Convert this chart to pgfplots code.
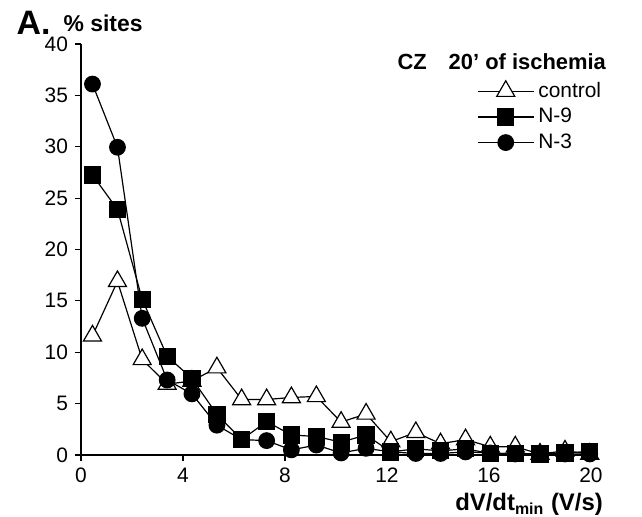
\documentclass[border=0pt]{standalone}
\usepackage{pgfplots}
\pgfplotsset{compat=1.18}
\usepackage{fontspec}
\setmainfont{Liberation Sans}
\begin{document}
\begin{tikzpicture}
\useasboundingbox (-40.5bp,-31bp) rectangle (280.5bp,227.5bp);
\begin{axis}[
  at={(0,0)}, anchor=south west,
  scale only axis, width=255bp, height=205.5bp,
  xmin=0, xmax=20, ymin=0, ymax=40,
  axis lines=left, axis line style={-, line width=0.8pt},
  xtick={0,4,...,20}, ytick={0,5,...,40},
  tick align=outside, major tick length=3bp,
  tick style={line width=0.6pt, black},
  /pgf/number format/assume math mode=true,
  tick label style={font=\fontsize{10.5}{12}\selectfont},
  clip=false,
  every axis plot/.append style={line width=0.6pt, black},
  legend style={at={(rel axis cs:0.776,0.918)}, anchor=north west, draw=none, fill=none,
    font=\fontsize{10.5}{12}\selectfont, row sep=0bp, inner sep=0pt},
  legend cell align=left,
  legend image code/.code={\draw[mark repeat=2,mark phase=2] plot coordinates {(0bp,0bp) (14bp,0bp) (28bp,0bp)};},
]
\addplot[mark=triangle*, mark options={fill=white, line width=0.6pt}, mark size=5.2bp] coordinates {
(0.45,11.6) (1.43,16.9) (2.40,9.3) (3.38,6.9) (4.35,7.2) (5.33,8.5) (6.30,5.4) (7.28,5.4) (8.25,5.6) (9.23,5.7)
(10.20,3.2) (11.18,4.0) (12.15,1.3) (13.13,2.2) (14.10,1.1) (15.08,1.5) (16.05,0.8) (17.03,0.8) (18.00,0.1) (18.98,0.4) (19.95,0.1)};
\addlegendentry{control}
\addplot[mark=square*, mark options={fill=black}, mark size=4bp] coordinates {
(0.45,27.25) (1.43,23.9) (2.40,15.15) (3.38,9.6) (4.35,7.45) (5.33,3.95) (6.30,1.5) (7.28,3.25) (8.25,1.95) (9.23,1.8)
(10.20,1.25) (11.18,1.95) (12.15,0.3) (13.13,0.6) (14.10,0.4) (15.08,0.6) (16.05,0.15) (17.03,0.15) (18.00,0.1) (18.98,0.2) (19.95,0.35)};
\addlegendentry{N-9}
\addplot[mark=*, mark options={fill=black}, mark size=3.9bp] coordinates {
(0.45,36.1) (1.43,29.95) (2.40,13.3) (3.38,7.3) (4.35,5.95) (5.33,2.9) (6.30,1.5) (7.28,1.4) (8.25,0.5) (9.23,0.97)
(10.20,0.2) (11.18,0.65) (12.15,0.3) (13.13,0.15) (14.10,0.15) (15.08,0.3) (16.05,0.2) (17.03,0.1) (18.00,0.1) (18.98,0.1) (19.95,0.1)};
\addlegendentry{N-3}
\node[anchor=west, font=\bfseries\fontsize{11}{13}\selectfont] at (rel axis cs:0.607,0.956) {CZ\quad 20’ of ischemia};
\node[anchor=west, font=\bfseries\fontsize{17}{19}\selectfont] at (rel axis cs:-0.14,1.052) {A.};
\node[anchor=west, font=\bfseries\fontsize{11.5}{13}\selectfont] at (rel axis cs:-0.048,1.05) {\% sites};
\node[anchor=east, font=\bfseries\fontsize{12}{14}\selectfont] at (rel axis cs:1.037,-0.12) {dV/dt\textsubscript{min} (V/s)};
\end{axis}
\end{tikzpicture}
\end{document}
